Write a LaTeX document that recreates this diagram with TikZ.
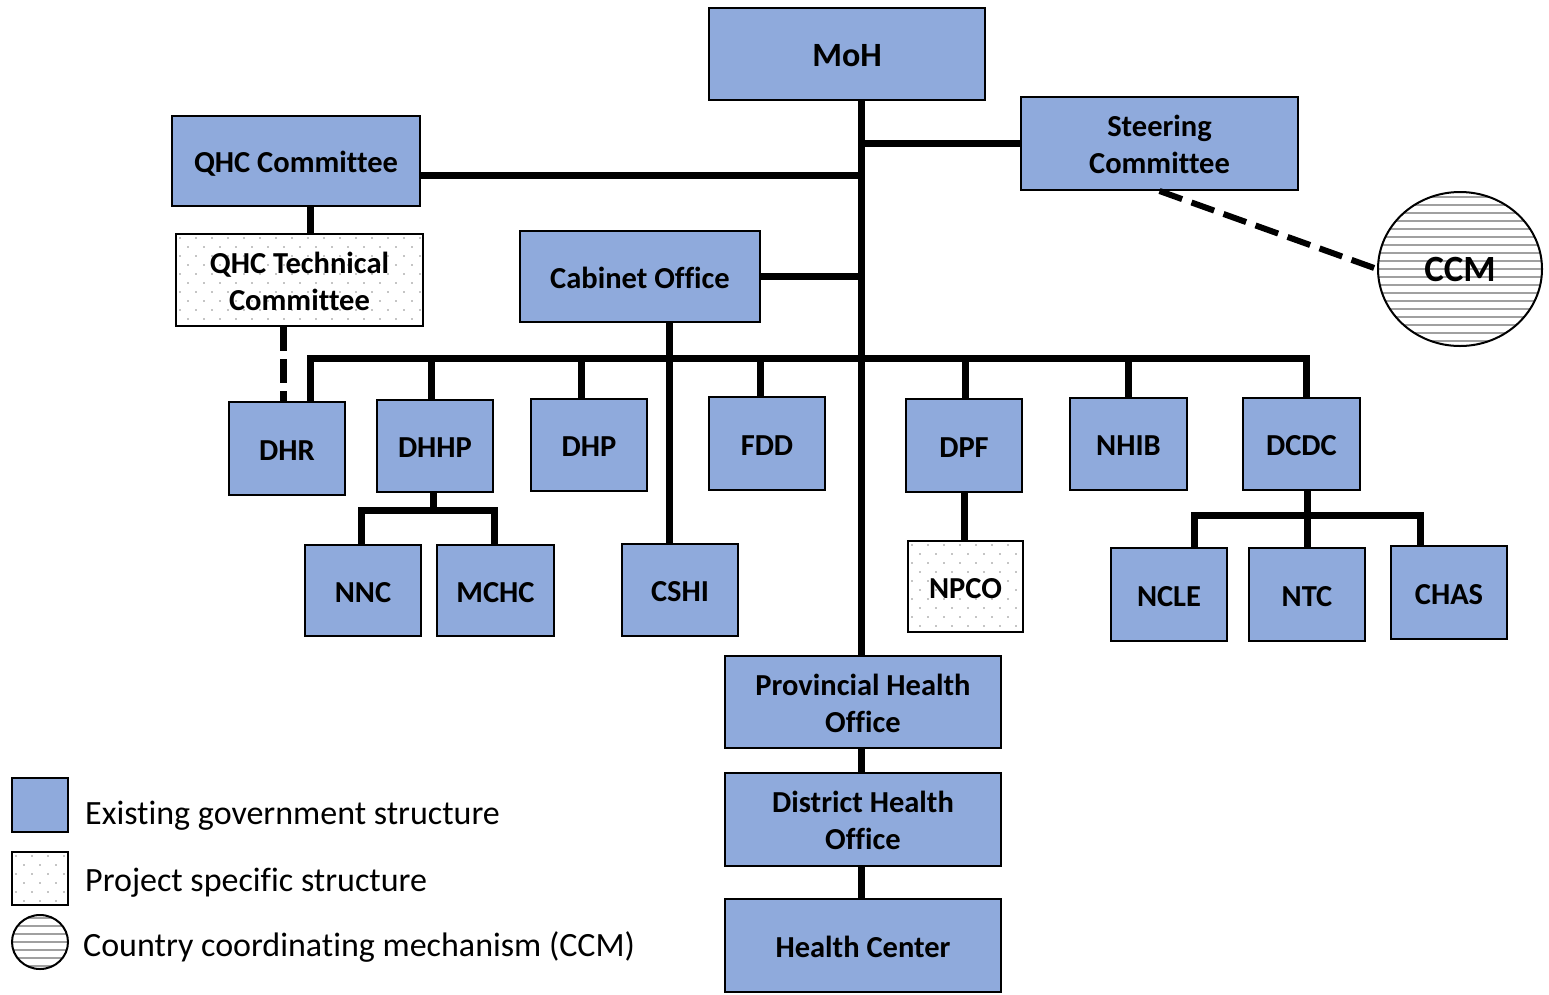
\documentclass[tikz,border=0pt]{standalone}
\usepackage{fontspec}
\setmainfont[Ligatures={NoCommon}]{Carlito}
\usetikzlibrary{shapes.geometric}
\definecolor{govblue}{HTML}{8FAADC}
\definecolor{dotc}{HTML}{8A8A8A}
\definecolor{hatchc}{HTML}{A0A0A0}
\newcommand{\mydots}[4]{%
  \begin{scope}
    \clip (#1,#2) rectangle (#3,#4);
    \foreach \yy in {0,9,...,110}{
      \foreach \xx in {0,16,...,270}{
        \fill[dotc] ({#1+\xx+mod(\yy/9,2)*8+4},{#2+\yy+4}) circle [radius=0.9pt];
      }
    }
  \end{scope}}
\newcommand{\myhlines}[4]{% cx, cy, rx, ry
  \begin{scope}
    \clip (#1,#2) ellipse [x radius=#3, y radius=#4];
    \foreach \yy in {-88,-80,...,88}{
      \draw[hatchc, line width=1.6pt] ({#1-#3-2},{#2+\yy}) -- ({#1+#3+2},{#2+\yy});
    }
  \end{scope}}
\newcommand{\lw}[1]{\raisebox{-4.5pt}[\height][\depth]{\begin{tabular}{@{}c@{}}#1\end{tabular}}}
\begin{document}
\begin{tikzpicture}[x=1pt,y=-1pt,
  gov/.style={draw=black, line width=2pt, fill=govblue, align=center, inner sep=0pt,
    font=\bfseries\fontsize{30.5}{37}\selectfont},
  proj/.style={draw=black, line width=2pt, align=center, inner sep=0pt,
    font=\bfseries\fontsize{30.5}{37}\selectfont},
  conn/.style={line width=7pt, black},
  dconn/.style={line width=7pt, black, dash pattern=on 24pt off 8pt},
  legtext/.style={anchor=west, inner sep=0pt, font=\fontsize{34}{40}\selectfont}]
\useasboundingbox (0,0) rectangle (1549,994);

% patterns
\mydots{176}{234}{423}{326}
\mydots{908}{541}{1023}{632}
\mydots{12}{852}{68}{905}
\myhlines{1460}{269}{82}{77}
\myhlines{40}{942}{28}{27}

% nodes
\node[gov, minimum width=276pt, minimum height=92pt, font=\bfseries\fontsize{34}{40}\selectfont] (moh) at (847,54) {\lw{MoH}};
\node[gov, minimum width=277pt, minimum height=93pt] (steer) at (1159.5,143.5) {\lw{Steering\\Committee}};
\node[gov, minimum width=248pt, minimum height=90pt] (qhc) at (296,161) {\lw{QHC Committee}};
\node[proj, minimum width=247pt, minimum height=92pt] (qhct) at (299.5,280) {\lw{QHC Technical\\Committee}};
\node[gov, minimum width=240pt, minimum height=91pt] (cab) at (640,276.5) {\lw{Cabinet Office}};
\node[draw=black, line width=2pt, ellipse, minimum width=164pt, minimum height=154pt, inner sep=0pt,
  font=\bfseries\fontsize{37}{42}\selectfont] (ccm) at (1460,269) {\lw{CCM}};

\node[gov, minimum width=116pt, minimum height=93pt] (dhr) at (287,448.5) {\lw{DHR}};
\node[gov, minimum width=116pt, minimum height=92pt] (dhhp) at (435,446) {\lw{DHHP}};
\node[gov, minimum width=116pt, minimum height=92pt] (dhp) at (589,445) {\lw{DHP}};
\node[gov, minimum width=116pt, minimum height=93pt] (fdd) at (767,443.5) {\lw{FDD}};
\node[gov, minimum width=116pt, minimum height=93pt] (dpf) at (964,445.5) {\lw{DPF}};
\node[gov, minimum width=117pt, minimum height=92pt] (nhib) at (1128.5,444) {\lw{NHIB}};
\node[gov, minimum width=117pt, minimum height=92pt] (dcdc) at (1301.5,444) {\lw{DCDC}};

\node[gov, minimum width=116pt, minimum height=91pt] (nnc) at (363,590.5) {\lw{NNC}};
\node[gov, minimum width=117pt, minimum height=91pt] (mchc) at (495.5,590.5) {\lw{MCHC}};
\node[gov, minimum width=116pt, minimum height=92pt] (cshi) at (680,590) {\lw{CSHI}};
\node[proj, minimum width=115pt, minimum height=91pt] (npco) at (965.5,586.5) {\lw{NPCO}};
\node[gov, minimum width=116pt, minimum height=93pt] (ncle) at (1169,594.5) {\lw{NCLE}};
\node[gov, minimum width=116pt, minimum height=93pt] (ntc) at (1307,594.5) {\lw{NTC}};
\node[gov, minimum width=116pt, minimum height=93pt] (chas) at (1449,592.5) {\lw{CHAS}};

\node[gov, minimum width=276pt, minimum height=92pt] (pho) at (863,702) {\lw{Provincial Health\\Office}};
\node[gov, minimum width=276pt, minimum height=93pt] (dho) at (863,819.5) {\lw{District Health\\Office}};
\node[gov, minimum width=276pt, minimum height=93pt] (hc) at (863,945.5) {\lw{Health Center}};

% helper coordinates
\coordinate (trunk) at (861,0);
\coordinate (qy) at (0,175);
\coordinate (bus) at (0,358);
\coordinate (sub1) at (0,510);
\coordinate (sub2) at (0,515);

% connectors
\draw[conn] (trunk |- moh.south) -- (trunk |- pho.north);
\draw[conn] (trunk |- pho.south) -- (trunk |- dho.north);
\draw[conn] (trunk |- dho.south) -- (trunk |- hc.north);
\draw[conn] (trunk |- steer.west) -- (steer.west);
\draw[conn] (qhc.east |- qy) -- (trunk |- qy);
\draw[conn] (cab.east) -- (cab.east -| trunk);
\draw[conn] ([xshift=14pt]qhc.south) -- ([xshift=14pt]qhc.south |- qhct.north);
\draw[dconn] ([xshift=-16.5pt]qhct.south) -- ([xshift=-16.5pt]qhct.south |- dhr.north);
\draw[conn] ([xshift=29pt]cab.south) -- ([xshift=29pt]cab.south |- cshi.north);
\draw[conn] ([xshift=23pt]dhr.north) -- ([xshift=23pt]dhr.north |- bus)
  -- ([xshift=4.5pt]dcdc.north |- bus) -- ([xshift=4.5pt]dcdc.north);
\draw[conn] ([xshift=-4pt]dhhp.north) -- ([xshift=-4pt]dhhp.north |- bus);
\draw[conn] ([xshift=-8pt]dhp.north) -- ([xshift=-8pt]dhp.north |- bus);
\draw[conn] ([xshift=-7pt]fdd.north) -- ([xshift=-7pt]fdd.north |- bus);
\draw[conn] ([xshift=1pt]dpf.north) -- ([xshift=1pt]dpf.north |- bus);
\draw[conn] (nhib.north) -- (nhib.north |- bus);
% DHHP children
\draw[conn] ([xshift=-2pt]dhhp.south) -- ([xshift=-2pt]dhhp.south |- sub1);
\draw[conn] ([xshift=-2pt]nnc.north) -- ([xshift=-2pt]nnc.north |- sub1)
  -- ([xshift=-1.5pt]mchc.north |- sub1) -- ([xshift=-1.5pt]mchc.north);
% DPF child
\draw[conn] (dpf.south) -- (dpf.south |- npco.north);
% DCDC children
\draw[conn] ([xshift=5.5pt]dcdc.south) -- (ntc.north);
\draw[conn] ([xshift=25pt]ncle.north) -- ([xshift=25pt]ncle.north |- sub2)
  -- ([xshift=-29pt]chas.north |- sub2) -- ([xshift=-29pt]chas.north);
% steering to CCM
\draw[line width=6pt, dash pattern=on 24pt off 10pt] (steer.south) -- (ccm.west);

% legend
\node[draw=black, line width=2pt, fill=govblue, minimum width=56pt, minimum height=54pt, inner sep=0pt] (lg1) at (40,805) {};
\node[draw=black, line width=2pt, minimum width=56pt, minimum height=53pt, inner sep=0pt] (lg2) at (40,878.5) {};
\node[draw=black, line width=2pt, ellipse, minimum width=56pt, minimum height=54pt, inner sep=0pt] (lg3) at (40,942) {};
\node[legtext] (lt1) at (85,816) {Existing government structure};
\node[legtext] (lt2) at (85,883) {Project specific structure};
\node[legtext] (lt3) at (83,947) {Country coordinating mechanism (CCM)};
\end{tikzpicture}
\end{document}
